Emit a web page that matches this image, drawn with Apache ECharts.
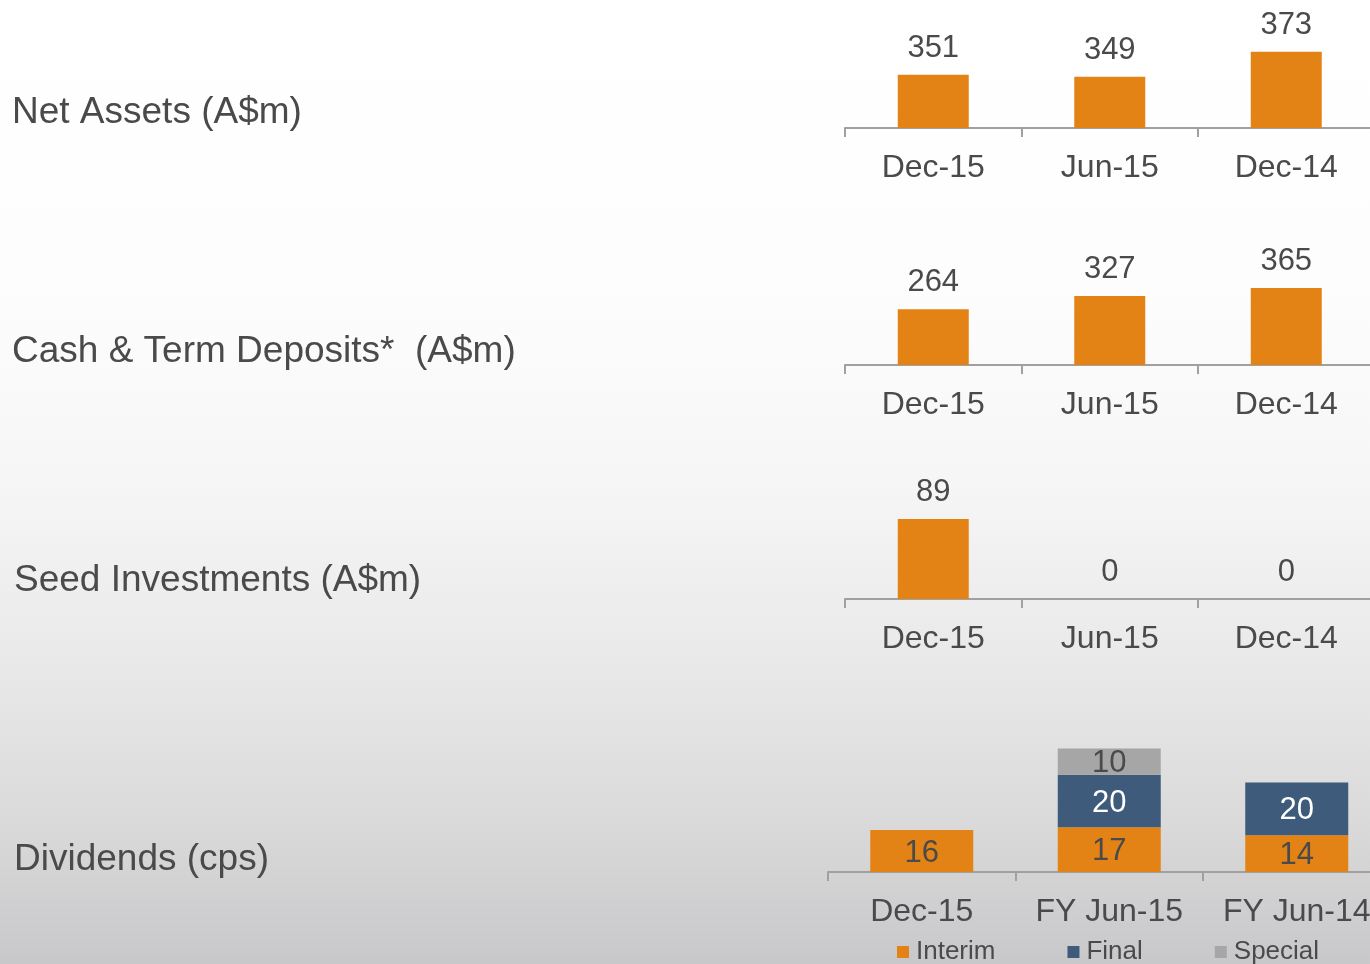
<!DOCTYPE html>
<html>
<head>
<meta charset="utf-8">
<script src="https://cdn.jsdelivr.net/npm/echarts@6/dist/echarts.min.js"></script>
<style>
html,body{margin:0;padding:0;}
#c{width:1370px;height:964px;}
</style>
</head>
<body>
<div id="c"></div>
<script>
const periodCats = ['Dec-15', 'Jun-15', 'Dec-14'];
const netAssets = [351, 349, 373];
const cashDeposits = [264, 327, 365];
const seedInvest = [89, 0, 0];
const divCats = ['Dec-15', 'FY Jun-15', 'FY Jun-14'];
const divInterim = [16, 17, 14];
const divFinal = [null, 20, 20];
const divSpecial = [null, 10, null];
const panelTitles = ['Net Assets (A$m)', 'Cash & Term Deposits*  (A$m)', 'Seed Investments (A$m)', 'Dividends (cps)'];

const FONT = 'Liberation Sans, Arial, sans-serif';
const TXT = '#4a4a4a';
const ORANGE = '#E38315';
const BLUE = '#3E5B7B';
const GRAY = '#A6A6A6';

const chart = echarts.init(document.getElementById('c'));

function xAx(idx, cats) {
  return {
    type: 'category', gridIndex: idx, data: cats,
    axisLine: {show: true, lineStyle: {color: '#A0A0A0', width: 2}},
    axisTick: {show: true, length: 9, lineStyle: {color: '#A0A0A0', width: 2}},
    axisLabel: {color: TXT, fontSize: 32, fontFamily: FONT, margin: 24, interval: 0}
  };
}
function yAx(idx, min, max) {
  return {type: 'value', gridIndex: idx, min: min, max: max, show: false, splitLine: {show: false}};
}
const topLabel = {show: true, position: 'top', distance: 11, color: TXT, fontSize: 31, fontFamily: FONT};
function inLabel(color) {
  return {show: true, position: 'inside', offset: [0, 2], color: color, fontSize: 31, fontFamily: FONT};
}

const option = {
  backgroundColor: {
    type: 'linear', x: 0, y: 0, x2: 0, y2: 1,
    colorStops: [
      {offset: 0, color: '#ffffff'},
      {offset: 0.3, color: '#fdfdfd'},
      {offset: 0.5, color: '#f6f6f6'},
      {offset: 0.7, color: '#e8e8e8'},
      {offset: 0.85, color: '#dadada'},
      {offset: 1, color: '#c8c8cb'}
    ]
  },
  animation: false,
  title: [
    {text: panelTitles[0], left: 12, top: 94},
    {text: panelTitles[1], left: 12, top: 333},
    {text: panelTitles[2], left: 14, top: 562},
    {text: panelTitles[3], left: 14, top: 841}
  ].map(t => Object.assign(t, {padding: 0, textStyle: {color: TXT, fontSize: 37, fontWeight: 'normal', fontFamily: FONT}})),
  legend: {
    left: 897, top: 939, padding: 0,
    itemWidth: 12, itemHeight: 12, itemGap: 72,
    icon: 'rect',
    textStyle: {color: TXT, fontSize: 26, fontFamily: FONT, padding: [0, 0, 0, 2]},
    data: ['Interim', 'Final', 'Special']
  },
  grid: [
    {left: 845, width: 529.5, top: 23.5, height: 104.5, outerBoundsMode: 'none'},
    {left: 845, width: 529.5, top: 280.6, height: 84.4, outerBoundsMode: 'none'},
    {left: 845, width: 529.5, top: 509, height: 90, outerBoundsMode: 'none'},
    {left: 828, width: 562.5, top: 740.5, height: 131.5, outerBoundsMode: 'none'}
  ],
  xAxis: [xAx(0, periodCats), xAx(1, periodCats), xAx(2, periodCats), xAx(3, divCats)],
  yAxis: [yAx(0, 300, 400), yAx(1, 0, 400), yAx(2, 0, 100), yAx(3, 0, 50)],
  series: [
    {type: 'bar', xAxisIndex: 0, yAxisIndex: 0, data: netAssets, barWidth: 71, itemStyle: {color: ORANGE}, label: topLabel},
    {type: 'bar', xAxisIndex: 1, yAxisIndex: 1, data: cashDeposits, barWidth: 71, itemStyle: {color: ORANGE}, label: topLabel},
    {type: 'bar', xAxisIndex: 2, yAxisIndex: 2, data: seedInvest, barWidth: 71, itemStyle: {color: ORANGE}, label: topLabel},
    {name: 'Interim', type: 'bar', stack: 'd', xAxisIndex: 3, yAxisIndex: 3, data: divInterim, barWidth: 103,
      itemStyle: {color: ORANGE}, label: inLabel(TXT)},
    {name: 'Final', type: 'bar', stack: 'd', xAxisIndex: 3, yAxisIndex: 3, data: divFinal, barWidth: 103,
      itemStyle: {color: BLUE}, label: inLabel('#ffffff')},
    {name: 'Special', type: 'bar', stack: 'd', xAxisIndex: 3, yAxisIndex: 3, data: divSpecial, barWidth: 103,
      itemStyle: {color: GRAY}, label: inLabel(TXT)}
  ]
};
chart.setOption(option);
</script>
</body>
</html>
